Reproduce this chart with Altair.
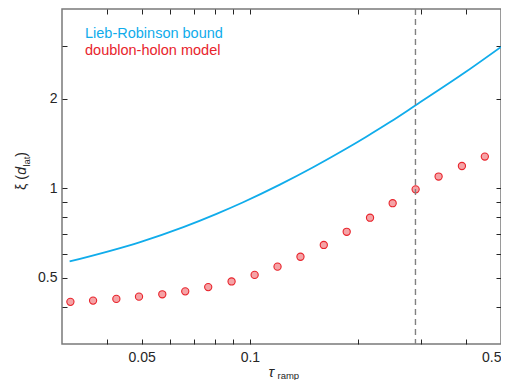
import altair as alt
import pandas as pd

# ---- data ----
LR_TAU = [0.0315, 0.0495, 0.0653, 0.0808, 0.0958, 0.1212, 0.150,
          0.1857, 0.211, 0.2449, 0.2893, 0.4002, 0.5]
LR_XI = [0.568, 0.660, 0.741, 0.821, 0.898, 1.029, 1.177,
         1.360, 1.490, 1.665, 1.900, 2.465, 2.982]

DH_TAU = [0.03166, 0.03661, 0.04250, 0.04914, 0.05705, 0.06609, 0.07657,
          0.08894, 0.1031, 0.1194, 0.1383, 0.1606, 0.1860, 0.2160, 0.2497,
          0.2893, 0.3352, 0.3892, 0.4508]
DH_XI = [0.4156, 0.4197, 0.4251, 0.4326, 0.4406, 0.4508, 0.4658, 0.4866,
         0.5118, 0.5456, 0.5889, 0.6452, 0.7143, 0.7966, 0.8912, 0.9917,
         1.095, 1.188, 1.278]

TAU_MARK = [0.289]

X_TICKS = [0.04, 0.05, 0.06, 0.07, 0.08, 0.09, 0.1, 0.2, 0.3, 0.4, 0.5]
X_LABELS = ["0.05", "0.1", "0.5"]
Y_TICKS = [0.4, 0.5, 0.6, 0.7, 0.8, 0.9, 1, 2, 3]
Y_LABELS = ["0.5", "1", "2"]
LEGEND = ["Lieb-Robinson bound", "doublon-holon model"]

FONT = "Liberation Sans"
W, H = 439, 335
CYAN = "#10ACEB"
RED = "#E8242C"
PINK = "#F5A3A6"
TXT = "#262626"

xs = alt.Scale(type="log", domain=[0.03, 0.5], nice=False)
ys = alt.Scale(type="log", domain=[0.3, 4], nice=False)


def label_expr(labels):
    arr = "[" + ",".join("'%s'" % l for l in labels) + "]"
    return "indexof(%s, format(datum.value, '~g')) >= 0 ? format(datum.value, '~g') : ''" % arr


def axis(orient, values, labels=None, pad=5, flush=False):
    kw = dict(orient=orient, values=values, tickSize=5, offset=-5, domain=False,
              grid=False, tickColor=TXT, tickWidth=1, title=None)
    if labels:
        kw.update(labels=True, labelExpr=label_expr(labels), labelFont=FONT,
                  labelFontSize=14, labelColor=TXT, labelPadding=pad,
                  labelOverlap=False, labelFlush=flush)
    else:
        kw.update(labels=False)
    return alt.Axis(**kw)


lr = pd.DataFrame({"tau": LR_TAU, "xi": LR_XI})
dh = pd.DataFrame({"tau": DH_TAU, "xi": DH_XI})
vm = pd.DataFrame({"tau": TAU_MARK})

line = alt.Chart(lr).mark_line(color=CYAN, strokeWidth=1.8, interpolate="monotone").encode(
    x=alt.X("tau:Q", scale=xs, axis=axis("bottom", X_TICKS, X_LABELS, pad=6, flush=True)),
    y=alt.Y("xi:Q", scale=ys, axis=axis("left", Y_TICKS, Y_LABELS, pad=5)),
)

pts = alt.Chart(dh).mark_point(shape="circle", filled=True, size=52, fill=PINK,
                               stroke=RED, strokeWidth=1.1, opacity=1).encode(
    x=alt.X("tau:Q", scale=xs, axis=axis("top", X_TICKS)),
    y=alt.Y("xi:Q", scale=ys, axis=axis("right", Y_TICKS)),
)

vline = alt.Chart(vm).mark_rule(color="#808080", strokeWidth=1.4, strokeDash=[6, 4]).encode(
    x=alt.X("tau:Q", scale=xs, axis=None),
)

one = pd.DataFrame({"k": [0]})


def txt(s, x, y, size=14, italic=False, angle=0, color=TXT):
    kw = dict(align="left", baseline="alphabetic", font=FONT, fontSize=size,
              color=color, text=s)
    if italic:
        kw["fontStyle"] = "italic"
    if angle:
        kw["angle"] = angle
    return alt.Chart(one).mark_text(**kw).encode(x=alt.value(x), y=alt.value(y))


legend = (txt(LEGEND[0], 23, 29, size=14.5, color=CYAN)
          + txt(LEGEND[1], 23, 46, size=14.5, color=RED))

xtitle = txt("τ", 206.5, 367.5, size=15, italic=True) + txt("ramp", 215.5, 370, size=9.5)
ytitle = (txt("ξ (", -36, 181, size=14, angle=270)
          + txt("d", -36, 165.7, size=14, italic=True, angle=270)
          + txt("lat", -32.5, 157.6, size=9.5, angle=270)
          + txt(")", -36, 147.8, size=14, angle=270))

chart = alt.layer(line, pts, vline, legend, xtitle, ytitle).resolve_axis(
    x="independent", y="independent"
).properties(
    width=W, height=H,
    autosize=alt.AutoSizeParams(type="none"),
    padding={"left": 54, "top": 1, "right": 0, "bottom": 36},
).configure_view(stroke="#7a7a7a", strokeWidth=1.5)

chart.save("out.html", embed_options={"renderer": "svg", "actions": False})
